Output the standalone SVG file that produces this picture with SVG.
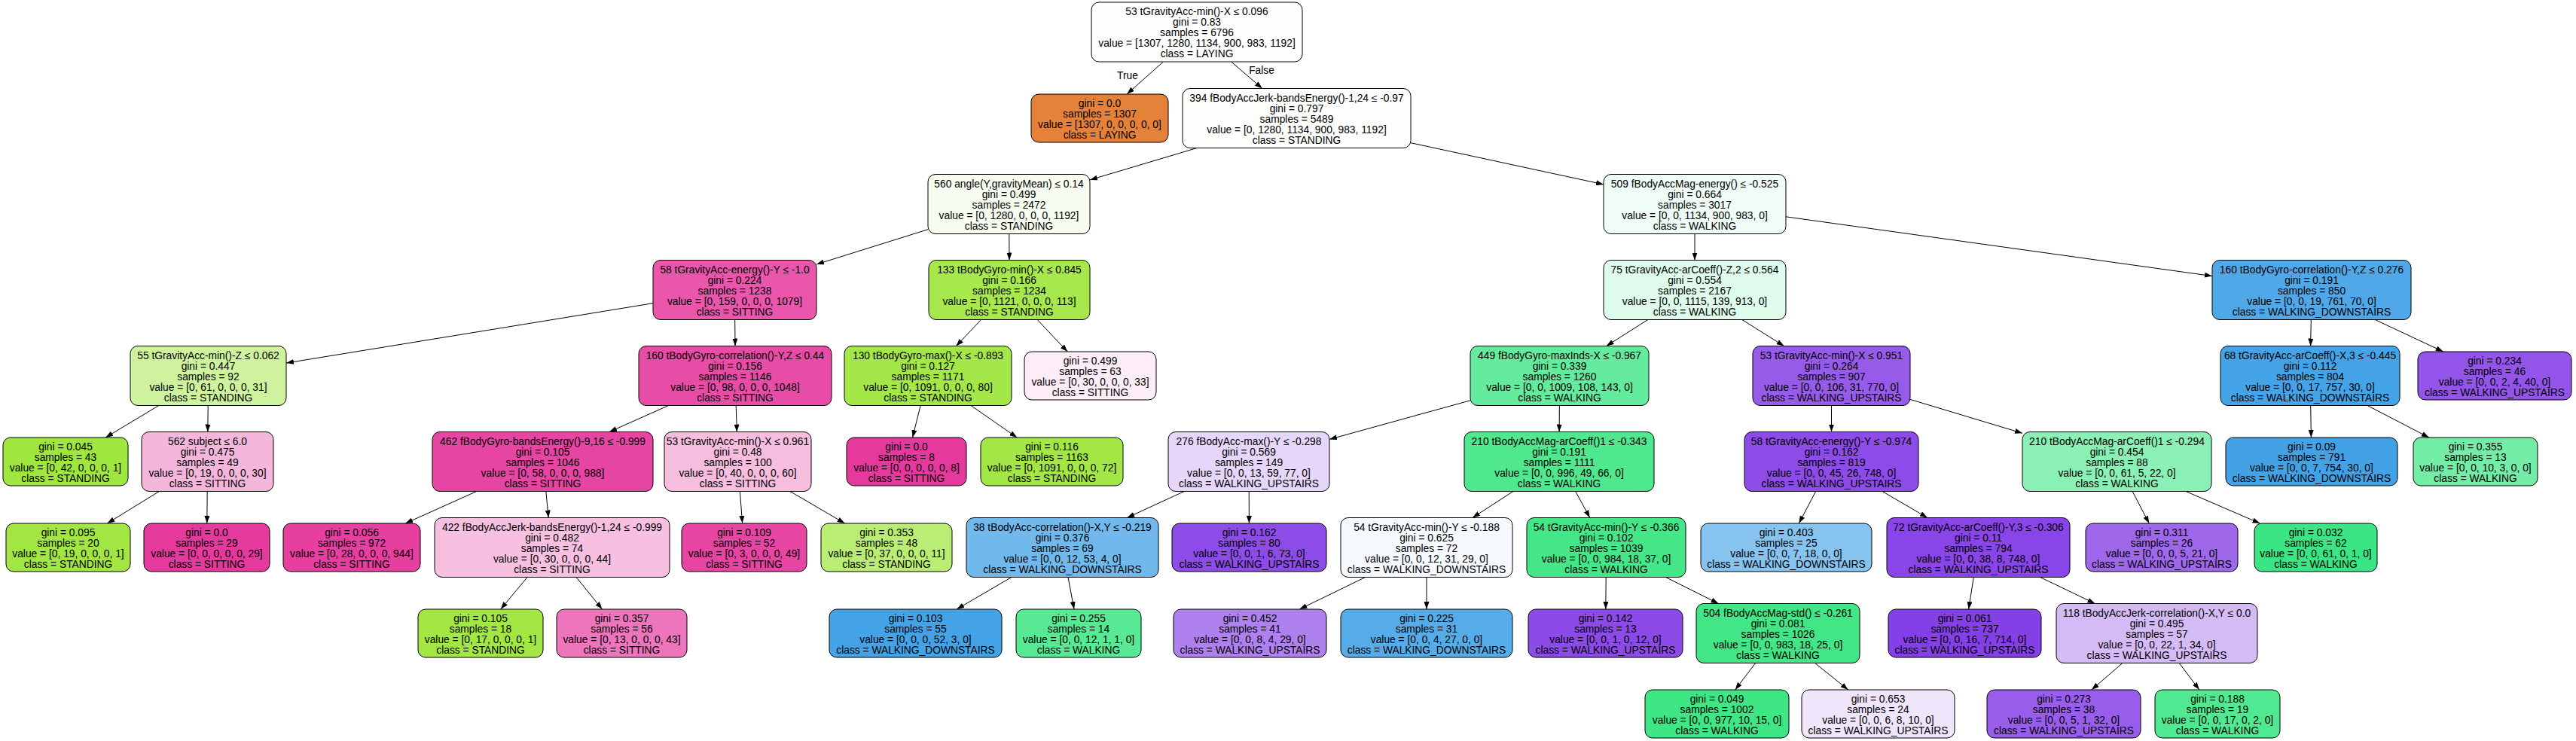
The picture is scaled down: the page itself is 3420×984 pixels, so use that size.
<svg xmlns="http://www.w3.org/2000/svg" width="3420" height="984" viewBox="0 0 3420 984">
<style>
.n rect{stroke:#000;stroke-width:1}
text{font-family:"Liberation Sans",Arial,Helvetica,sans-serif;font-size:13.8px;text-anchor:middle;fill:#000}
#edges line{stroke:#000;stroke-width:1;marker-end:url(#ah)}
</style>
<defs>
<marker id="ah" markerUnits="userSpaceOnUse" markerWidth="10" markerHeight="7" refX="10" refY="3.5" orient="auto"><path d="M0,0L10,3.5L0,7z" fill="#000"/></marker>
</defs>
<rect x="0" y="0" width="3420" height="984" fill="#fff"/>
<g id="edges">
<line x1="1544.5" y1="82" x2="1496.1" y2="125"/>
<line x1="1634.7" y1="82" x2="1675.8" y2="117.5"/>
<line x1="1589.1" y1="196.5" x2="1447" y2="238.9"/>
<line x1="1873" y1="189.7" x2="2129" y2="244.9"/>
<line x1="1232" y1="304.7" x2="1084" y2="351"/>
<line x1="1339.8" y1="310.5" x2="1340" y2="345.5"/>
<line x1="2250" y1="310.5" x2="2250" y2="345.5"/>
<line x1="2371" y1="287.8" x2="2937" y2="366.6"/>
<line x1="867" y1="402.7" x2="380" y2="482.1"/>
<line x1="975.7" y1="424.5" x2="976" y2="459.5"/>
<line x1="1302.6" y1="424.5" x2="1269.4" y2="459.5"/>
<line x1="1377.2" y1="424.5" x2="1417.3" y2="467"/>
<line x1="2187.8" y1="424.5" x2="2132.7" y2="459.5"/>
<line x1="2312.9" y1="424.5" x2="2368.6" y2="459.5"/>
<line x1="3068.3" y1="424.5" x2="3067.6" y2="459.5"/>
<line x1="3153.2" y1="424.5" x2="3243.8" y2="467"/>
<line x1="210.8" y1="538.5" x2="140.2" y2="581"/>
<line x1="276.2" y1="538.5" x2="275.8" y2="573.5"/>
<line x1="887.5" y1="538.5" x2="809" y2="573.5"/>
<line x1="977.2" y1="538.5" x2="978.3" y2="573.5"/>
<line x1="1222.1" y1="538.5" x2="1211.5" y2="581"/>
<line x1="1289" y1="538.5" x2="1350.3" y2="581"/>
<line x1="1952" y1="531.8" x2="1765" y2="583.4"/>
<line x1="2070.4" y1="538.5" x2="2070.1" y2="573.5"/>
<line x1="2431.5" y1="538.5" x2="2431.5" y2="573.5"/>
<line x1="2536" y1="530.4" x2="2685" y2="575.3"/>
<line x1="3067.7" y1="538.5" x2="3068.4" y2="581"/>
<line x1="3143.1" y1="538.5" x2="3224.9" y2="581"/>
<line x1="211.4" y1="652.5" x2="142.4" y2="695"/>
<line x1="275.2" y1="652.5" x2="274.8" y2="695"/>
<line x1="632.7" y1="652.5" x2="538.2" y2="695"/>
<line x1="724.8" y1="652.5" x2="728.2" y2="687.5"/>
<line x1="982.4" y1="652.5" x2="985.6" y2="695"/>
<line x1="1049" y1="652.5" x2="1121.6" y2="695"/>
<line x1="1572.2" y1="652.5" x2="1496.3" y2="687.5"/>
<line x1="1658.2" y1="652.5" x2="1658.4" y2="695"/>
<line x1="2009" y1="652.5" x2="1955" y2="687.5"/>
<line x1="2091.7" y1="652.5" x2="2110.8" y2="687.5"/>
<line x1="2410.7" y1="652.5" x2="2388.3" y2="695"/>
<line x1="2499.1" y1="652.5" x2="2558.9" y2="687.5"/>
<line x1="2831.1" y1="652.5" x2="2853.3" y2="695"/>
<line x1="2902" y1="652.5" x2="3000.4" y2="695"/>
<line x1="700.1" y1="766.5" x2="664.7" y2="809"/>
<line x1="765.1" y1="766.5" x2="799.5" y2="809"/>
<line x1="1342.9" y1="766.5" x2="1270.2" y2="809"/>
<line x1="1418" y1="766.5" x2="1426" y2="809"/>
<line x1="1812.7" y1="766.5" x2="1725.3" y2="809"/>
<line x1="1894" y1="766.5" x2="1894" y2="809"/>
<line x1="2132.2" y1="766.5" x2="2131.8" y2="809"/>
<line x1="2211.5" y1="766.5" x2="2281.5" y2="801.5"/>
<line x1="2620.3" y1="766.5" x2="2613.6" y2="809"/>
<line x1="2708.6" y1="766.5" x2="2781.4" y2="801.5"/>
<line x1="2330.6" y1="880.5" x2="2303.7" y2="916"/>
<line x1="2409.6" y1="880.5" x2="2453.7" y2="916"/>
<line x1="2817.9" y1="880.5" x2="2776.9" y2="916"/>
<line x1="2893.2" y1="880.5" x2="2919.9" y2="916"/>
<text x="1497" y="105">True</text>
<text x="1675" y="98">False</text>
</g>
<g id="n0" class="n"><rect x="1449" y="3" width="280" height="79" rx="10" fill="#fffefe"/><text y="20"><tspan x="1589">53 tGravityAcc-min()-X ≤ 0.096</tspan><tspan x="1589" dy="14">gini = 0.83</tspan><tspan x="1589" dy="14">samples = 6796</tspan><tspan x="1589" dy="14">value = [1307, 1280, 1134, 900, 983, 1192]</tspan><tspan x="1589" dy="14">class = LAYING</tspan></text></g>
<g id="n1" class="n"><rect x="1369" y="125" width="182" height="64" rx="10" fill="#e58139"/><text y="141.5"><tspan x="1460">gini = 0.0</tspan><tspan x="1460" dy="14">samples = 1307</tspan><tspan x="1460" dy="14">value = [1307, 0, 0, 0, 0, 0]</tspan><tspan x="1460" dy="14">class = LAYING</tspan></text></g>
<g id="n2" class="n"><rect x="1570" y="117.5" width="303" height="79" rx="10" fill="#fdfefb"/><text y="134.5"><tspan x="1721.5">394 fBodyAccJerk-bandsEnergy()-1,24 ≤ -0.97</tspan><tspan x="1721.5" dy="14">gini = 0.797</tspan><tspan x="1721.5" dy="14">samples = 5489</tspan><tspan x="1721.5" dy="14">value = [0, 1280, 1134, 900, 983, 1192]</tspan><tspan x="1721.5" dy="14">class = STANDING</tspan></text></g>
<g id="n3" class="n"><rect x="1232" y="231.5" width="215" height="79" rx="10" fill="#f8fdf1"/><text y="248.5"><tspan x="1339.5">560 angle(Y,gravityMean) ≤ 0.14</tspan><tspan x="1339.5" dy="14">gini = 0.499</tspan><tspan x="1339.5" dy="14">samples = 2472</tspan><tspan x="1339.5" dy="14">value = [0, 1280, 0, 0, 0, 1192]</tspan><tspan x="1339.5" dy="14">class = STANDING</tspan></text></g>
<g id="n4" class="n"><rect x="2129" y="231.5" width="242" height="79" rx="10" fill="#f0fdf6"/><text y="248.5"><tspan x="2250">509 fBodyAccMag-energy() ≤ -0.525</tspan><tspan x="2250" dy="14">gini = 0.664</tspan><tspan x="2250" dy="14">samples = 3017</tspan><tspan x="2250" dy="14">value = [0, 0, 1134, 900, 983, 0]</tspan><tspan x="2250" dy="14">class = WALKING</tspan></text></g>
<g id="n5" class="n"><rect x="867" y="345.5" width="217" height="79" rx="10" fill="#e956ab"/><text y="362.5"><tspan x="975.5">58 tGravityAcc-energy()-Y ≤ -1.0</tspan><tspan x="975.5" dy="14">gini = 0.224</tspan><tspan x="975.5" dy="14">samples = 1238</tspan><tspan x="975.5" dy="14">value = [0, 159, 0, 0, 0, 1079]</tspan><tspan x="975.5" dy="14">class = SITTING</tspan></text></g>
<g id="n6" class="n"><rect x="1233" y="345.5" width="214" height="79" rx="10" fill="#a7e84d"/><text y="362.5"><tspan x="1340">133 tBodyGyro-min()-X ≤ 0.845</tspan><tspan x="1340" dy="14">gini = 0.166</tspan><tspan x="1340" dy="14">samples = 1234</tspan><tspan x="1340" dy="14">value = [0, 1121, 0, 0, 0, 113]</tspan><tspan x="1340" dy="14">class = STANDING</tspan></text></g>
<g id="n7" class="n"><rect x="2129" y="345.5" width="242" height="79" rx="10" fill="#dffbeb"/><text y="362.5"><tspan x="2250">75 tGravityAcc-arCoeff()-Z,2 ≤ 0.564</tspan><tspan x="2250" dy="14">gini = 0.554</tspan><tspan x="2250" dy="14">samples = 2167</tspan><tspan x="2250" dy="14">value = [0, 0, 1115, 139, 913, 0]</tspan><tspan x="2250" dy="14">class = WALKING</tspan></text></g>
<g id="n8" class="n"><rect x="2937" y="345.5" width="264" height="79" rx="10" fill="#50a8e8"/><text y="362.5"><tspan x="3069">160 tBodyGyro-correlation()-Y,Z ≤ 0.276</tspan><tspan x="3069" dy="14">gini = 0.191</tspan><tspan x="3069" dy="14">samples = 850</tspan><tspan x="3069" dy="14">value = [0, 0, 19, 761, 70, 0]</tspan><tspan x="3069" dy="14">class = WALKING_DOWNSTAIRS</tspan></text></g>
<g id="n9" class="n"><rect x="173" y="459.5" width="207" height="79" rx="10" fill="#cff29e"/><text y="476.5"><tspan x="276.5">55 tGravityAcc-min()-Z ≤ 0.062</tspan><tspan x="276.5" dy="14">gini = 0.447</tspan><tspan x="276.5" dy="14">samples = 92</tspan><tspan x="276.5" dy="14">value = [0, 61, 0, 0, 0, 31]</tspan><tspan x="276.5" dy="14">class = STANDING</tspan></text></g>
<g id="n10" class="n"><rect x="848" y="459.5" width="256" height="79" rx="10" fill="#e74ca6"/><text y="476.5"><tspan x="976">160 tBodyGyro-correlation()-Y,Z ≤ 0.44</tspan><tspan x="976" dy="14">gini = 0.156</tspan><tspan x="976" dy="14">samples = 1146</tspan><tspan x="976" dy="14">value = [0, 98, 0, 0, 0, 1048]</tspan><tspan x="976" dy="14">class = SITTING</tspan></text></g>
<g id="n11" class="n"><rect x="1121" y="459.5" width="222" height="79" rx="10" fill="#a4e748"/><text y="476.5"><tspan x="1232">130 tBodyGyro-max()-X ≤ -0.893</tspan><tspan x="1232" dy="14">gini = 0.127</tspan><tspan x="1232" dy="14">samples = 1171</tspan><tspan x="1232" dy="14">value = [0, 1091, 0, 0, 0, 80]</tspan><tspan x="1232" dy="14">class = STANDING</tspan></text></g>
<g id="n12" class="n"><rect x="1360" y="467" width="175" height="64" rx="10" fill="#fdedf6"/><text y="483.5"><tspan x="1447.5">gini = 0.499</tspan><tspan x="1447.5" dy="14">samples = 63</tspan><tspan x="1447.5" dy="14">value = [0, 30, 0, 0, 0, 33]</tspan><tspan x="1447.5" dy="14">class = SITTING</tspan></text></g>
<g id="n13" class="n"><rect x="1952" y="459.5" width="237" height="79" rx="10" fill="#65eb9d"/><text y="476.5"><tspan x="2070.5">449 fBodyGyro-maxInds-X ≤ -0.967</tspan><tspan x="2070.5" dy="14">gini = 0.339</tspan><tspan x="2070.5" dy="14">samples = 1260</tspan><tspan x="2070.5" dy="14">value = [0, 0, 1009, 108, 143, 0]</tspan><tspan x="2070.5" dy="14">class = WALKING</tspan></text></g>
<g id="n14" class="n"><rect x="2327" y="459.5" width="209" height="79" rx="10" fill="#975be9"/><text y="476.5"><tspan x="2431.5">53 tGravityAcc-min()-X ≤ 0.951</tspan><tspan x="2431.5" dy="14">gini = 0.264</tspan><tspan x="2431.5" dy="14">samples = 907</tspan><tspan x="2431.5" dy="14">value = [0, 0, 106, 31, 770, 0]</tspan><tspan x="2431.5" dy="14">class = WALKING_UPSTAIRS</tspan></text></g>
<g id="n15" class="n"><rect x="2948" y="459.5" width="238" height="79" rx="10" fill="#45a3e7"/><text y="476.5"><tspan x="3067">68 tGravityAcc-arCoeff()-X,3 ≤ -0.445</tspan><tspan x="3067" dy="14">gini = 0.112</tspan><tspan x="3067" dy="14">samples = 804</tspan><tspan x="3067" dy="14">value = [0, 0, 17, 757, 30, 0]</tspan><tspan x="3067" dy="14">class = WALKING_DOWNSTAIRS</tspan></text></g>
<g id="n16" class="n"><rect x="3210" y="467" width="204" height="64" rx="10" fill="#9355e9"/><text y="483.5"><tspan x="3312">gini = 0.234</tspan><tspan x="3312" dy="14">samples = 46</tspan><tspan x="3312" dy="14">value = [0, 0, 2, 4, 40, 0]</tspan><tspan x="3312" dy="14">class = WALKING_UPSTAIRS</tspan></text></g>
<g id="n17" class="n"><rect x="4" y="581" width="166" height="64" rx="10" fill="#9fe63e"/><text y="597.5"><tspan x="87">gini = 0.045</tspan><tspan x="87" dy="14">samples = 43</tspan><tspan x="87" dy="14">value = [0, 42, 0, 0, 0, 1]</tspan><tspan x="87" dy="14">class = STANDING</tspan></text></g>
<g id="n18" class="n"><rect x="188" y="573.5" width="175" height="79" rx="10" fill="#f5b6db"/><text y="590.5"><tspan x="275.5">562 subject ≤ 6.0</tspan><tspan x="275.5" dy="14">gini = 0.475</tspan><tspan x="275.5" dy="14">samples = 49</tspan><tspan x="275.5" dy="14">value = [0, 19, 0, 0, 0, 30]</tspan><tspan x="275.5" dy="14">class = SITTING</tspan></text></g>
<g id="n19" class="n"><rect x="574" y="573.5" width="293" height="79" rx="10" fill="#e745a3"/><text y="590.5"><tspan x="720.5">462 fBodyGyro-bandsEnergy()-9,16 ≤ -0.999</tspan><tspan x="720.5" dy="14">gini = 0.105</tspan><tspan x="720.5" dy="14">samples = 1046</tspan><tspan x="720.5" dy="14">value = [0, 58, 0, 0, 0, 988]</tspan><tspan x="720.5" dy="14">class = SITTING</tspan></text></g>
<g id="n20" class="n"><rect x="882" y="573.5" width="195" height="79" rx="10" fill="#f6bdde"/><text y="590.5"><tspan x="979.5">53 tGravityAcc-min()-X ≤ 0.961</tspan><tspan x="979.5" dy="14">gini = 0.48</tspan><tspan x="979.5" dy="14">samples = 100</tspan><tspan x="979.5" dy="14">value = [0, 40, 0, 0, 0, 60]</tspan><tspan x="979.5" dy="14">class = SITTING</tspan></text></g>
<g id="n21" class="n"><rect x="1124" y="581" width="159" height="64" rx="10" fill="#e5399d"/><text y="597.5"><tspan x="1203.5">gini = 0.0</tspan><tspan x="1203.5" dy="14">samples = 8</tspan><tspan x="1203.5" dy="14">value = [0, 0, 0, 0, 0, 8]</tspan><tspan x="1203.5" dy="14">class = SITTING</tspan></text></g>
<g id="n22" class="n"><rect x="1302" y="581" width="189" height="64" rx="10" fill="#a3e746"/><text y="597.5"><tspan x="1396.5">gini = 0.116</tspan><tspan x="1396.5" dy="14">samples = 1163</tspan><tspan x="1396.5" dy="14">value = [0, 1091, 0, 0, 0, 72]</tspan><tspan x="1396.5" dy="14">class = STANDING</tspan></text></g>
<g id="n23" class="n"><rect x="1551" y="573.5" width="214" height="79" rx="10" fill="#e6d7fa"/><text y="590.5"><tspan x="1658">276 fBodyAcc-max()-Y ≤ -0.298</tspan><tspan x="1658" dy="14">gini = 0.569</tspan><tspan x="1658" dy="14">samples = 149</tspan><tspan x="1658" dy="14">value = [0, 0, 13, 59, 77, 0]</tspan><tspan x="1658" dy="14">class = WALKING_UPSTAIRS</tspan></text></g>
<g id="n24" class="n"><rect x="1944" y="573.5" width="252" height="79" rx="10" fill="#4fe88f"/><text y="590.5"><tspan x="2070">210 tBodyAccMag-arCoeff()1 ≤ -0.343</tspan><tspan x="2070" dy="14">gini = 0.191</tspan><tspan x="2070" dy="14">samples = 1111</tspan><tspan x="2070" dy="14">value = [0, 0, 996, 49, 66, 0]</tspan><tspan x="2070" dy="14">class = WALKING</tspan></text></g>
<g id="n25" class="n"><rect x="2316" y="573.5" width="231" height="79" rx="10" fill="#8d4be7"/><text y="590.5"><tspan x="2431.5">58 tGravityAcc-energy()-Y ≤ -0.974</tspan><tspan x="2431.5" dy="14">gini = 0.162</tspan><tspan x="2431.5" dy="14">samples = 819</tspan><tspan x="2431.5" dy="14">value = [0, 0, 45, 26, 748, 0]</tspan><tspan x="2431.5" dy="14">class = WALKING_UPSTAIRS</tspan></text></g>
<g id="n26" class="n"><rect x="2685" y="573.5" width="251" height="79" rx="10" fill="#8af0b5"/><text y="590.5"><tspan x="2810.5">210 tBodyAccMag-arCoeff()1 ≤ -0.294</tspan><tspan x="2810.5" dy="14">gini = 0.454</tspan><tspan x="2810.5" dy="14">samples = 88</tspan><tspan x="2810.5" dy="14">value = [0, 0, 61, 5, 22, 0]</tspan><tspan x="2810.5" dy="14">class = WALKING</tspan></text></g>
<g id="n27" class="n"><rect x="2955" y="581" width="228" height="64" rx="10" fill="#43a2e6"/><text y="597.5"><tspan x="3069">gini = 0.09</tspan><tspan x="3069" dy="14">samples = 791</tspan><tspan x="3069" dy="14">value = [0, 0, 7, 754, 30, 0]</tspan><tspan x="3069" dy="14">class = WALKING_DOWNSTAIRS</tspan></text></g>
<g id="n28" class="n"><rect x="3204" y="581" width="165" height="64" rx="10" fill="#74eda7"/><text y="597.5"><tspan x="3286.5">gini = 0.355</tspan><tspan x="3286.5" dy="14">samples = 13</tspan><tspan x="3286.5" dy="14">value = [0, 0, 10, 3, 0, 0]</tspan><tspan x="3286.5" dy="14">class = WALKING</tspan></text></g>
<g id="n29" class="n"><rect x="8" y="695" width="165" height="64" rx="10" fill="#a2e643"/><text y="711.5"><tspan x="90.5">gini = 0.095</tspan><tspan x="90.5" dy="14">samples = 20</tspan><tspan x="90.5" dy="14">value = [0, 19, 0, 0, 0, 1]</tspan><tspan x="90.5" dy="14">class = STANDING</tspan></text></g>
<g id="n30" class="n"><rect x="191" y="695" width="167" height="64" rx="10" fill="#e5399d"/><text y="711.5"><tspan x="274.5">gini = 0.0</tspan><tspan x="274.5" dy="14">samples = 29</tspan><tspan x="274.5" dy="14">value = [0, 0, 0, 0, 0, 29]</tspan><tspan x="274.5" dy="14">class = SITTING</tspan></text></g>
<g id="n31" class="n"><rect x="376" y="695" width="182" height="64" rx="10" fill="#e63fa0"/><text y="711.5"><tspan x="467">gini = 0.056</tspan><tspan x="467" dy="14">samples = 972</tspan><tspan x="467" dy="14">value = [0, 28, 0, 0, 0, 944]</tspan><tspan x="467" dy="14">class = SITTING</tspan></text></g>
<g id="n32" class="n"><rect x="577" y="687.5" width="312" height="79" rx="10" fill="#f7c0e0"/><text y="704.5"><tspan x="733">422 fBodyAccJerk-bandsEnergy()-1,24 ≤ -0.999</tspan><tspan x="733" dy="14">gini = 0.482</tspan><tspan x="733" dy="14">samples = 74</tspan><tspan x="733" dy="14">value = [0, 30, 0, 0, 0, 44]</tspan><tspan x="733" dy="14">class = SITTING</tspan></text></g>
<g id="n33" class="n"><rect x="905" y="695" width="166" height="64" rx="10" fill="#e745a3"/><text y="711.5"><tspan x="988">gini = 0.109</tspan><tspan x="988" dy="14">samples = 52</tspan><tspan x="988" dy="14">value = [0, 3, 0, 0, 0, 49]</tspan><tspan x="988" dy="14">class = SITTING</tspan></text></g>
<g id="n34" class="n"><rect x="1090" y="695" width="174" height="64" rx="10" fill="#baed74"/><text y="711.5"><tspan x="1177">gini = 0.353</tspan><tspan x="1177" dy="14">samples = 48</tspan><tspan x="1177" dy="14">value = [0, 37, 0, 0, 0, 11]</tspan><tspan x="1177" dy="14">class = STANDING</tspan></text></g>
<g id="n35" class="n"><rect x="1283" y="687.5" width="255" height="79" rx="10" fill="#71b9ec"/><text y="704.5"><tspan x="1410.5">38 tBodyAcc-correlation()-X,Y ≤ -0.219</tspan><tspan x="1410.5" dy="14">gini = 0.376</tspan><tspan x="1410.5" dy="14">samples = 69</tspan><tspan x="1410.5" dy="14">value = [0, 0, 12, 53, 4, 0]</tspan><tspan x="1410.5" dy="14">class = WALKING_DOWNSTAIRS</tspan></text></g>
<g id="n36" class="n"><rect x="1556" y="695" width="205" height="64" rx="10" fill="#8d4ce7"/><text y="711.5"><tspan x="1658.5">gini = 0.162</tspan><tspan x="1658.5" dy="14">samples = 80</tspan><tspan x="1658.5" dy="14">value = [0, 0, 1, 6, 73, 0]</tspan><tspan x="1658.5" dy="14">class = WALKING_UPSTAIRS</tspan></text></g>
<g id="n37" class="n"><rect x="1780" y="687.5" width="228" height="79" rx="10" fill="#f6fafe"/><text y="704.5"><tspan x="1894">54 tGravityAcc-min()-Y ≤ -0.188</tspan><tspan x="1894" dy="14">gini = 0.625</tspan><tspan x="1894" dy="14">samples = 72</tspan><tspan x="1894" dy="14">value = [0, 0, 12, 31, 29, 0]</tspan><tspan x="1894" dy="14">class = WALKING_DOWNSTAIRS</tspan></text></g>
<g id="n38" class="n"><rect x="2027" y="687.5" width="211" height="79" rx="10" fill="#44e688"/><text y="704.5"><tspan x="2132.5">54 tGravityAcc-min()-Y ≤ -0.366</tspan><tspan x="2132.5" dy="14">gini = 0.102</tspan><tspan x="2132.5" dy="14">samples = 1039</tspan><tspan x="2132.5" dy="14">value = [0, 0, 984, 18, 37, 0]</tspan><tspan x="2132.5" dy="14">class = WALKING</tspan></text></g>
<g id="n39" class="n"><rect x="2258" y="695" width="227" height="64" rx="10" fill="#86c3ef"/><text y="711.5"><tspan x="2371.5">gini = 0.403</tspan><tspan x="2371.5" dy="14">samples = 25</tspan><tspan x="2371.5" dy="14">value = [0, 0, 7, 18, 0, 0]</tspan><tspan x="2371.5" dy="14">class = WALKING_DOWNSTAIRS</tspan></text></g>
<g id="n40" class="n"><rect x="2505" y="687.5" width="243" height="79" rx="10" fill="#8945e7"/><text y="704.5"><tspan x="2626.5">72 tGravityAcc-arCoeff()-Y,3 ≤ -0.306</tspan><tspan x="2626.5" dy="14">gini = 0.11</tspan><tspan x="2626.5" dy="14">samples = 794</tspan><tspan x="2626.5" dy="14">value = [0, 0, 38, 8, 748, 0]</tspan><tspan x="2626.5" dy="14">class = WALKING_UPSTAIRS</tspan></text></g>
<g id="n41" class="n"><rect x="2769" y="695" width="202" height="64" rx="10" fill="#9f68eb"/><text y="711.5"><tspan x="2870">gini = 0.311</tspan><tspan x="2870" dy="14">samples = 26</tspan><tspan x="2870" dy="14">value = [0, 0, 0, 5, 21, 0]</tspan><tspan x="2870" dy="14">class = WALKING_UPSTAIRS</tspan></text></g>
<g id="n42" class="n"><rect x="2993" y="695" width="163" height="64" rx="10" fill="#3ce583"/><text y="711.5"><tspan x="3074.5">gini = 0.032</tspan><tspan x="3074.5" dy="14">samples = 62</tspan><tspan x="3074.5" dy="14">value = [0, 0, 61, 0, 1, 0]</tspan><tspan x="3074.5" dy="14">class = WALKING</tspan></text></g>
<g id="n43" class="n"><rect x="555" y="809" width="166" height="64" rx="10" fill="#a3e745"/><text y="825.5"><tspan x="638">gini = 0.105</tspan><tspan x="638" dy="14">samples = 18</tspan><tspan x="638" dy="14">value = [0, 17, 0, 0, 0, 1]</tspan><tspan x="638" dy="14">class = STANDING</tspan></text></g>
<g id="n44" class="n"><rect x="739" y="809" width="173" height="64" rx="10" fill="#ed75bb"/><text y="825.5"><tspan x="825.5">gini = 0.357</tspan><tspan x="825.5" dy="14">samples = 56</tspan><tspan x="825.5" dy="14">value = [0, 13, 0, 0, 0, 43]</tspan><tspan x="825.5" dy="14">class = SITTING</tspan></text></g>
<g id="n45" class="n"><rect x="1101" y="809" width="229" height="64" rx="10" fill="#44a3e6"/><text y="825.5"><tspan x="1215.5">gini = 0.103</tspan><tspan x="1215.5" dy="14">samples = 55</tspan><tspan x="1215.5" dy="14">value = [0, 0, 0, 52, 3, 0]</tspan><tspan x="1215.5" dy="14">class = WALKING_DOWNSTAIRS</tspan></text></g>
<g id="n46" class="n"><rect x="1349" y="809" width="166" height="64" rx="10" fill="#57e994"/><text y="825.5"><tspan x="1432">gini = 0.255</tspan><tspan x="1432" dy="14">samples = 14</tspan><tspan x="1432" dy="14">value = [0, 0, 12, 1, 1, 0]</tspan><tspan x="1432" dy="14">class = WALKING</tspan></text></g>
<g id="n47" class="n"><rect x="1558" y="809" width="203" height="64" rx="10" fill="#af81ee"/><text y="825.5"><tspan x="1659.5">gini = 0.452</tspan><tspan x="1659.5" dy="14">samples = 41</tspan><tspan x="1659.5" dy="14">value = [0, 0, 8, 4, 29, 0]</tspan><tspan x="1659.5" dy="14">class = WALKING_UPSTAIRS</tspan></text></g>
<g id="n48" class="n"><rect x="1780" y="809" width="228" height="64" rx="10" fill="#56ace9"/><text y="825.5"><tspan x="1894">gini = 0.225</tspan><tspan x="1894" dy="14">samples = 31</tspan><tspan x="1894" dy="14">value = [0, 0, 4, 27, 0, 0]</tspan><tspan x="1894" dy="14">class = WALKING_DOWNSTAIRS</tspan></text></g>
<g id="n49" class="n"><rect x="2029" y="809" width="205" height="64" rx="10" fill="#8c4ae7"/><text y="825.5"><tspan x="2131.5">gini = 0.142</tspan><tspan x="2131.5" dy="14">samples = 13</tspan><tspan x="2131.5" dy="14">value = [0, 0, 1, 0, 12, 0]</tspan><tspan x="2131.5" dy="14">class = WALKING_UPSTAIRS</tspan></text></g>
<g id="n50" class="n"><rect x="2252" y="801.5" width="217" height="79" rx="10" fill="#42e686"/><text y="818.5"><tspan x="2360.5">504 fBodyAccMag-std() ≤ -0.261</tspan><tspan x="2360.5" dy="14">gini = 0.081</tspan><tspan x="2360.5" dy="14">samples = 1026</tspan><tspan x="2360.5" dy="14">value = [0, 0, 983, 18, 25, 0]</tspan><tspan x="2360.5" dy="14">class = WALKING</tspan></text></g>
<g id="n51" class="n"><rect x="2507" y="809" width="203" height="64" rx="10" fill="#853fe6"/><text y="825.5"><tspan x="2608.5">gini = 0.061</tspan><tspan x="2608.5" dy="14">samples = 737</tspan><tspan x="2608.5" dy="14">value = [0, 0, 16, 7, 714, 0]</tspan><tspan x="2608.5" dy="14">class = WALKING_UPSTAIRS</tspan></text></g>
<g id="n52" class="n"><rect x="2730" y="801.5" width="267" height="79" rx="10" fill="#d4bbf6"/><text y="818.5"><tspan x="2863.5">118 tBodyAccJerk-correlation()-X,Y ≤ 0.0</tspan><tspan x="2863.5" dy="14">gini = 0.495</tspan><tspan x="2863.5" dy="14">samples = 57</tspan><tspan x="2863.5" dy="14">value = [0, 0, 22, 1, 34, 0]</tspan><tspan x="2863.5" dy="14">class = WALKING_UPSTAIRS</tspan></text></g>
<g id="n53" class="n"><rect x="2184" y="916" width="191" height="64" rx="10" fill="#3ee684"/><text y="932.5"><tspan x="2279.5">gini = 0.049</tspan><tspan x="2279.5" dy="14">samples = 1002</tspan><tspan x="2279.5" dy="14">value = [0, 0, 977, 10, 15, 0]</tspan><tspan x="2279.5" dy="14">class = WALKING</tspan></text></g>
<g id="n54" class="n"><rect x="2392" y="916" width="203" height="64" rx="10" fill="#efe6fc"/><text y="932.5"><tspan x="2493.5">gini = 0.653</tspan><tspan x="2493.5" dy="14">samples = 24</tspan><tspan x="2493.5" dy="14">value = [0, 0, 6, 8, 10, 0]</tspan><tspan x="2493.5" dy="14">class = WALKING_UPSTAIRS</tspan></text></g>
<g id="n55" class="n"><rect x="2638" y="916" width="204" height="64" rx="10" fill="#985dea"/><text y="932.5"><tspan x="2740">gini = 0.273</tspan><tspan x="2740" dy="14">samples = 38</tspan><tspan x="2740" dy="14">value = [0, 0, 5, 1, 32, 0]</tspan><tspan x="2740" dy="14">class = WALKING_UPSTAIRS</tspan></text></g>
<g id="n56" class="n"><rect x="2861" y="916" width="166" height="64" rx="10" fill="#50e890"/><text y="932.5"><tspan x="2944">gini = 0.188</tspan><tspan x="2944" dy="14">samples = 19</tspan><tspan x="2944" dy="14">value = [0, 0, 17, 0, 2, 0]</tspan><tspan x="2944" dy="14">class = WALKING</tspan></text></g>
</svg>
